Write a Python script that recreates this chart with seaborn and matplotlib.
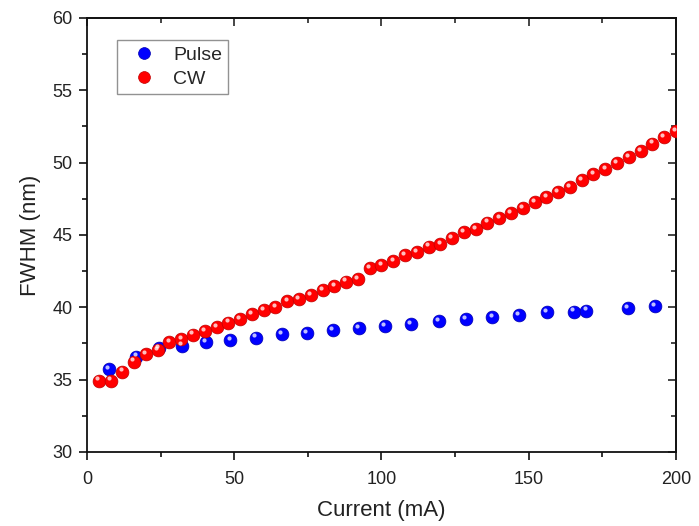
import numpy as np
import pandas as pd
import matplotlib
matplotlib.use("Agg")
import matplotlib.pyplot as plt
import matplotlib.transforms as mtransforms
from matplotlib.lines import Line2D
from matplotlib.ticker import MultipleLocator, AutoMinorLocator
import seaborn as sns

# Pulsed operation: FWHM (nm) vs drive current (mA)
pulse_current = [7.5, 16.7, 24.3, 32.2, 40.3, 48.7, 57.3, 66.1, 74.6, 83.4, 92.3,
                 101.2, 110.0, 119.5, 128.7, 137.6, 146.7, 156.2, 165.4, 169.6,
                 183.6, 192.9]
pulse_fwhm = [35.75, 36.59, 37.20, 37.36, 37.61, 37.74, 37.90, 38.15, 38.20, 38.43,
              38.55, 38.69, 38.83, 39.05, 39.19, 39.31, 39.47, 39.65, 39.70, 39.77,
              39.97, 40.11]

# Continuous-wave operation
cw_current = [4, 8, 12, 16, 20, 24, 28, 32, 36, 40, 44, 48, 52, 56, 60, 64, 68, 72,
              76, 80, 84, 88, 92, 96, 100, 104, 108, 112, 116, 120, 124, 128, 132,
              136, 140, 144, 148, 152, 156, 160, 164, 168, 172, 176, 180, 184, 188,
              192, 196, 200]
cw_fwhm = [34.93, 34.93, 35.55, 36.24, 36.77, 37.05, 37.60, 37.81, 38.11, 38.38,
           38.64, 38.95, 39.17, 39.54, 39.81, 40.04, 40.41, 40.57, 40.83, 41.17,
           41.49, 41.77, 41.96, 42.70, 42.92, 43.22, 43.59, 43.82, 44.19, 44.37,
           44.79, 45.20, 45.39, 45.85, 46.15, 46.50, 46.84, 47.26, 47.64, 47.99,
           48.33, 48.80, 49.21, 49.54, 49.99, 50.41, 50.82, 51.31, 51.75, 52.18]

series_names = ["Pulse", "CW"]
series_colors = {"Pulse": "#0000ff", "CW": "#ff0000"}
series_edges = {"Pulse": "#0000b0", "CW": "#c00000"}

df = pd.concat([
    pd.DataFrame({"Current": pulse_current, "FWHM": pulse_fwhm, "Mode": "Pulse"}),
    pd.DataFrame({"Current": cw_current, "FWHM": cw_fwhm, "Mode": "CW"}),
], ignore_index=True)

sns.set_style("ticks")
plt.rcParams["font.family"] = ["Liberation Sans", "DejaVu Sans"]

fig = plt.figure(figsize=(6.99, 5.26), dpi=100)
ax = fig.add_axes([0.1245, 0.1407, 0.8425, 0.8251])

# glossy highlight sits slightly up-left of each sphere centre
shine = ax.transData + mtransforms.ScaledTranslation(-1.2 / 72, 1.6 / 72, fig.dpi_scale_trans)

for name in series_names:
    sub = df[df["Mode"] == name]
    sns.scatterplot(data=sub, x="Current", y="FWHM", ax=ax, s=85,
                    color=series_colors[name], edgecolor=series_edges[name],
                    linewidth=0.5, legend=False, zorder=3)
    ax.scatter(sub["Current"], sub["FWHM"], s=9, color="white", alpha=0.75,
               linewidths=0, transform=shine, zorder=4)

ax.set_xlim(0, 200)
ax.set_ylim(30, 60)
ax.xaxis.set_major_locator(MultipleLocator(50))
ax.yaxis.set_major_locator(MultipleLocator(5))
ax.xaxis.set_minor_locator(AutoMinorLocator(2))
ax.yaxis.set_minor_locator(AutoMinorLocator(2))

for sp in ax.spines.values():
    sp.set_visible(True)
    sp.set_linewidth(1.3)
    sp.set_color("#111111")

ax.tick_params(which="major", direction="out", length=5.5, width=1.2,
               labelsize=13, colors="#111111", pad=5)
ax.tick_params(axis="x", which="major", pad=8)
ax.tick_params(which="minor", direction="out", length=3.5, width=1.2, colors="#111111")
ax.tick_params(axis="both", labelcolor="#222222")

# inward ticks along the top and right edges
top = ax.secondary_xaxis("top")
top.xaxis.set_major_locator(MultipleLocator(50))
top.xaxis.set_minor_locator(AutoMinorLocator(2))
top.tick_params(which="major", direction="in", length=5.5, width=1.2, labeltop=False)
top.tick_params(which="minor", direction="in", length=3.5, width=1.2)
top.spines["top"].set_linewidth(1.3)
right = ax.secondary_yaxis("right")
right.yaxis.set_major_locator(MultipleLocator(5))
right.yaxis.set_minor_locator(AutoMinorLocator(2))
right.tick_params(which="major", direction="in", length=5.5, width=1.2, labelright=False)
right.tick_params(which="minor", direction="in", length=3.5, width=1.2)
right.spines["right"].set_linewidth(1.3)

ax.set_xlabel("Current (mA)", fontsize=16, color="#222222", labelpad=9)
ax.set_ylabel("FWHM (nm)", fontsize=16, color="#222222", labelpad=8)

handles = [Line2D([], [], linestyle="none", marker="o", markersize=8.5,
                  markerfacecolor=series_colors[n], markeredgecolor=series_edges[n],
                  markeredgewidth=0.5) for n in series_names]
leg = ax.legend(handles, series_names, loc="upper left", bbox_to_anchor=(0.051, 0.949),
                fontsize=14, frameon=True, fancybox=False, edgecolor="#777777",
                borderpad=0.3, handletextpad=0.4, labelspacing=0.35, borderaxespad=0,
                handlelength=2.2)
leg.get_frame().set_linewidth(1.0)

fig.savefig("out.png", dpi=100)
